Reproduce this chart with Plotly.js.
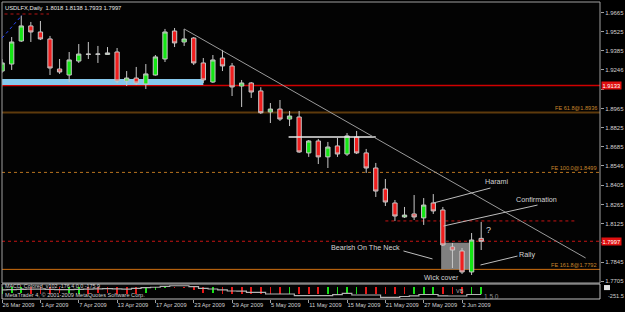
<!DOCTYPE html>
<html><head><meta charset="utf-8">
<script src="https://cdn.plot.ly/plotly-3.0.1.min.js"></script>
<style>html,body{margin:0;padding:0;background:#000;}#chart{width:625px;height:312px;}</style>
</head><body><div id="chart"></div>
<script>
// ---- data ----
const dates = ['26 Mar','27 Mar','30 Mar','31 Mar','1 Apr','2 Apr','3 Apr','6 Apr','7 Apr','8 Apr','9 Apr','10 Apr',
  '13 Apr','14 Apr','15 Apr','16 Apr','17 Apr','20 Apr','21 Apr','22 Apr','23 Apr','24 Apr','27 Apr','28 Apr','29 Apr',
  '30 Apr','1 May','4 May','5 May','6 May','7 May','8 May','11 May','12 May','13 May','14 May','15 May','18 May','19 May',
  '20 May','21 May','22 May','25 May','26 May','27 May','28 May','29 May','1 Jun','2 Jun','3 Jun','4 Jun'];
const opens  = [1.9238,1.9289,1.9457,1.9567,1.9523,1.9472,1.9253,1.9209,1.9311,1.9362,1.9360,1.9359,
  1.9377,1.9166,1.9187,1.9144,1.9209,1.9326,1.9530,1.9450,1.9479,1.9297,1.9158,1.9333,1.9275,
  1.9129,1.9151,1.9093,1.8940,1.8961,1.8888,1.8903,1.8641,1.8728,1.8612,1.8692,1.8633,1.8757,1.8641,
  1.8531,1.8378,1.8276,1.8174,1.8196,1.8167,1.8276,1.8225,1.7955,1.7926,1.7773,1.8018];
const highs  = [1.9325,1.9486,1.9642,1.9596,1.9603,1.9494,1.9326,1.9377,1.9435,1.9450,1.9421,1.9413,
  1.9406,1.9238,1.9268,1.9289,1.9355,1.9545,1.9552,1.9545,1.9486,1.9333,1.9355,1.9392,1.9297,
  1.9173,1.9158,1.9120,1.9005,1.9027,1.8947,1.8947,1.8735,1.8743,1.8721,1.8750,1.8786,1.8801,1.8670,
  1.8568,1.8451,1.8298,1.8247,1.8334,1.8312,1.8341,1.8247,1.7984,1.7948,1.8057,1.8138];
const lows   = [1.9225,1.9246,1.9450,1.9450,1.9464,1.9209,1.9217,1.9158,1.9297,1.9326,1.9297,1.9357,
  1.9151,1.9129,1.9136,1.9107,1.9205,1.9304,1.9413,1.9421,1.9282,1.9151,1.9151,1.9238,1.9056,
  1.8976,1.9042,1.8925,1.8859,1.8874,1.8837,1.8641,1.8612,1.8560,1.8531,1.8612,1.8619,1.8633,1.8495,
  1.8320,1.8254,1.8145,1.8167,1.8152,1.8116,1.8196,1.7962,1.7802,1.7758,1.7751,1.7933];
const closes = [1.9297,1.9450,1.9567,1.9523,1.9472,1.9260,1.9231,1.9319,1.9362,1.9360,1.9362,1.9370,
  1.9166,1.9187,1.9151,1.9217,1.9341,1.9523,1.9443,1.9472,1.9297,1.9173,1.9319,1.9275,1.9122,
  1.9151,1.9085,1.8934,1.8961,1.8888,1.8910,1.8648,1.8728,1.8612,1.8684,1.8633,1.8765,1.8641,1.8531,
  1.8363,1.8283,1.8181,1.8188,1.8174,1.8261,1.8218,1.7970,1.7933,1.7773,1.8006,1.7997];

const dateTickBars = ['26 Mar','1 Apr','7 Apr','13 Apr','17 Apr','23 Apr','29 Apr','5 May','11 May','15 May','21 May','27 May','2 Jun'];
const dateTickLabels = ['26 Mar 2009','1 Apr 2009','7 Apr 2009','13 Apr 2009','17 Apr 2009','23 Apr 2009','29 Apr 2009',
  '5 May 2009','11 May 2009','15 May 2009','21 May 2009','27 May 2009','2 Jun 2009'];
const priceTicks = [1.9665,1.9525,1.9385,1.9246,1.9105,1.8965,1.8825,1.8685,1.8546,1.8405,1.8265,1.8125,1.7985,1.7845,1.7705];
// 1.9105 and 1.7985 are hidden under the red price boxes in the reference
const priceTickLabels = ['1.9665','1.9525','1.9385','1.9246','','1.8965','1.8825','1.8685','1.8546','1.8405','1.8265','1.8125','','1.7845','1.7705'];

const macdHist = [-140,-135,-130,-140,-140,-140,-135,-135,-140,-140,-135,-135,-140,-140,-140,-135,-60,-20,-15,-20,
  -60,-120,-135,-140,-140,-140,-140,-140,-140,-140,-140,-140,-140,-140,-140,-140,-140,-140,-140,-140,
  -140,-140,-140,-140,-140,-140,-140,-140,-140,-140,-140];
const macdRising = [1,1,1,0,0,0,0,1,1,0,0,0,0,0,0,1,1,1,0,0,0,0,1,0,0,0,0,0,0,0,1,0,0,0,1,1,1,1,0,0,0,0,0,1,1,1,0,0,0,1,1];
const macdSignal = [-60,-58,-50,-45,-45,-50,-55,-55,-50,-45,-40,-38,-42,-46,-30,-15,-8,10,24,24,
  5,-30,-44,-60,-85,-90,-112,-112,-148,-148,-148,-183,-183,-183,-183,-160,-133,-168,-168,-168,
  -216,-216,-200,-185,-158,-158,-185,-189,-189,-158,-158];

const resistanceLevel = 1.9133;
const bidLevel = 1.7997;
const feLevels = [1.8936, 1.8499, 1.7792];
const feLabels = ['FE 61.8@1.8936','FE 100.0@1.8499','FE 161.8@1.7792'];
const titleText = 'USDLFX,Daily  1.8018 1.8138 1.7933 1.7997';

// ---- build ----
const xs = dates.map((d, i) => i);
const idx = d => dates.indexOf(d);
const GRAY = '#a0a0a0';
const TXT = '#d4d4d4';
const FONT = 'Liberation Sans, Arial, sans-serif';

const candles = {
  type: 'candlestick', x: xs, open: opens, high: highs, low: lows, close: closes,
  xaxis: 'x', yaxis: 'y', hoverinfo: 'skip', whiskerwidth: 0,
  increasing: {line: {color: '#c8c8c8', width: 1}, fillcolor: '#14e614'},
  decreasing: {line: {color: '#c8c8c8', width: 1}, fillcolor: '#f01e1e'}
};
const hist = {
  type: 'bar', x: xs, y: macdHist, xaxis: 'x', yaxis: 'y2', width: 0.18, hoverinfo: 'skip',
  marker: {color: macdRising.map(r => r ? '#18e018' : '#e81818'), line: {width: 0}}
};
const signal = {
  type: 'scatter', mode: 'lines', x: xs, y: macdSignal, xaxis: 'x', yaxis: 'y2', hoverinfo: 'skip',
  line: {color: '#b4b4b4', width: 1.2, shape: 'hvh'}
};

const shapes = [];
shapes.push({type:'rect', xref:'x domain', yref:'y domain', x0:0, x1:1, y0:0, y1:1, line:{color:GRAY, width:1}, layer:'above'});
shapes.push({type:'rect', xref:'x domain', yref:'y2 domain', x0:0, x1:1, y0:0, y1:1, line:{color:'#c0c0c0', width:1}, layer:'above'});
shapes.push({type:'rect', layer:'below', xref:'x', yref:'y', x0:-1, x1:21.0, y0:1.9136, y1:1.9180, fillcolor:'#86c8ec', line:{width:0}});
shapes.push({type:'rect', layer:'below', xref:'x', yref:'y', x0:45.82, x1:48.78, y0:1.7792, y1:1.7986, fillcolor:'#808080', line:{width:0}});
shapes.push({type:'line', layer:'below', xref:'x domain', yref:'y', x0:0, x1:1, y0:resistanceLevel, y1:resistanceLevel, line:{color:'#d00000', width:1.5}});
shapes.push({type:'line', layer:'below', xref:'x domain', yref:'y', x0:0, x1:1, y0:bidLevel, y1:bidLevel, line:{color:'#c81414', width:1, dash:'dot'}});
shapes.push({type:'line', layer:'below', xref:'x domain', yref:'y', x0:0, x1:1, y0:feLevels[0], y1:feLevels[0], line:{color:'#5e3a0c', width:2}});
shapes.push({type:'line', layer:'below', xref:'x domain', yref:'y', x0:0, x1:1, y0:feLevels[1], y1:feLevels[1], line:{color:'#b87420', width:1, dash:'dot'}});
shapes.push({type:'line', layer:'below', xref:'x domain', yref:'y', x0:0, x1:1, y0:feLevels[2], y1:feLevels[2], line:{color:'#d07010', width:1}});
shapes.push({type:'line', layer:'below', xref:'x', yref:'y', x0:40, x1:59.8, y0:lows[idx('22 May')], y1:lows[idx('22 May')], line:{color:'#c81414', width:1, dash:'dot'}});
shapes.push({type:'line', layer:'below', xref:'x', yref:'y', x0:-1, x1:4.9, y0:1.9654, y1:1.9654, line:{color:'#b41414', width:1, dash:'dot'}});
shapes.push({type:'line', layer:'above', xref:'x', yref:'y', x0:0, x1:2.1, y0:1.9479, y1:1.9647, line:{color:'#2848ff', width:1, dash:'dot'}});
shapes.push({type:'line', layer:'above', xref:'x', yref:'y', x0:29.9, x1:39.0, y0:1.8757, y1:1.8757, line:{color:'#e8e8e8', width:1.5}});
shapes.push({type:'line', layer:'above', xref:'x', yref:'y', x0:idx('22 Apr'), x1:60.9, y0:highs[idx('22 Apr')], y1:1.7875, line:{color:'#9a9a9a', width:1}});
const ptr = (x0,y0,x1,y1) => shapes.push({type:'line', layer:'above', xref:'x', yref:'y', x0, x1, y0, y1, line:{color:'#bdbdbd', width:1}});
ptr(45.02, 1.8276, 50.97, 1.8385);
ptr(46.07, 1.8108, 55.88, 1.8261);
ptr(49.93, 1.7824, 53.79, 1.7889);
ptr(41.89, 1.7926, 44.92, 1.7868);
shapes.push({type:'rect', xref:'paper', yref:'paper', x0:1.0067, x1:1.0167, y0:0.030, y1:0.047, fillcolor:'#e0e0e0', line:{width:0}});

const ann = [];
ann.push({xref:'paper', yref:'paper', x:0.001, y:1, xanchor:'left', yanchor:'top', yshift:-1, text:titleText, showarrow:false, font:{family:FONT, size:5.8, color:'#e8e8e8'}});
feLevels.forEach((lv, i) => ann.push({xref:'paper', yref:'y', x:0.999, y:lv, xanchor:'right', yanchor:'bottom', yshift:-1, text:feLabels[i], showarrow:false, font:{family:FONT, size:5.6, color:'#c8862c'}}));
[resistanceLevel, bidLevel].forEach(lv => ann.push({xref:'paper', yref:'y', x:1.0025, y:lv, xanchor:'left', yanchor:'middle', text:lv.toFixed(4), showarrow:false, bgcolor:'#e01010', borderpad:0.5, font:{family:FONT, size:5.8, color:'#ffffff'}}));
const lbl = (x, y, t, s) => ann.push({xref:'x', yref:'y', x, y, text:t, showarrow:false, xanchor:'center', yanchor:'middle', font:{family:FONT, size:s || 7.2, color:TXT}});
lbl(51.7, 1.8436, 'Harami');
lbl(55.8, 1.8305, 'Confirmation');
lbl(50.76, 1.8079, '?', 9);
lbl(54.83, 1.7904, 'Rally');
lbl(37.92, 1.7948, 'Bearish On The Neck');
lbl(45.85, 1.7736, 'Wick cover', 7);
ann.push({xref:'paper', yref:'paper', x:0.002, y:0.044, xanchor:'left', yanchor:'middle', text:'MACD_Colored_v102 -176.4 0.0 -175.9', showarrow:false, font:{family:FONT, size:5.4, color:'#d0d0d0'}});
ann.push({xref:'paper', yref:'paper', x:0.002, y:0.013, xanchor:'left', yanchor:'middle', text:'MetaTrader 4, © 2001-2009 MetaQuotes Software Corp.', showarrow:false, font:{family:FONT, size:5.6, color:'#d0d0d0'}});
ann.push({xref:'paper', yref:'paper', x:0.766, y:0.027, xanchor:'center', yanchor:'middle', text:'VB', showarrow:false, font:{family:FONT, size:5.5, color:'#b0b0b0'}});
ann.push({xref:'paper', yref:'paper', x:0.818, y:0.010, xanchor:'center', yanchor:'middle', text:'1 5 0', showarrow:false, font:{family:FONT, size:6.5, color:'#909090'}});
ann.push({xref:'paper', yref:'paper', x:1.0100, y:0.010, xanchor:'left', yanchor:'middle', text:'-251.5', showarrow:false, font:{family:FONT, size:5.6, color:'#d0d0d0'}});

const layout = {
  width: 625, height: 312,
  margin: {l: 2, r: 25, t: 2, b: 13, pad: 0},
  paper_bgcolor: '#000000', plot_bgcolor: '#030303',
  showlegend: false, boxgap: 0.36, bargap: 0,
  font: {family: FONT, size: 6, color: TXT},
  xaxis: {range: [-0.01, 62.4], anchor: 'y2', tickmode: 'array', tickvals: dateTickBars.map(idx), ticktext: dateTickLabels,
    ticks: 'outside', ticklen: 3, tickcolor: GRAY, ticklabelposition: 'outside right', tickangle: 0, automargin: false,
    tickfont: {family: FONT, size: 5.7, color: '#d0d0d0'},
    showgrid: false, zeroline: false, showline: false, rangeslider: {visible: false}, fixedrange: true},
  yaxis: {domain: [0.0539, 1], range: [1.76926, 1.97415], side: 'right', anchor: 'x', tickmode: 'array', automargin: false,
    tickvals: priceTicks, ticktext: priceTickLabels, ticks: 'outside', ticklen: 3, tickcolor: GRAY,
    tickfont: {family: FONT, size: 6, color: '#d0d0d0'}, showgrid: false, zeroline: false, showline: false, fixedrange: true},
  yaxis2: {domain: [0, 0.0505], range: [-251.5, 60], side: 'right', anchor: 'x', showticklabels: false, automargin: false,
    showgrid: false, zeroline: false, showline: false, fixedrange: true},
  shapes: shapes, annotations: ann
};
Plotly.newPlot('chart', [candles, hist, signal], layout, {staticPlot: true, displayModeBar: false});
</script></body></html>
